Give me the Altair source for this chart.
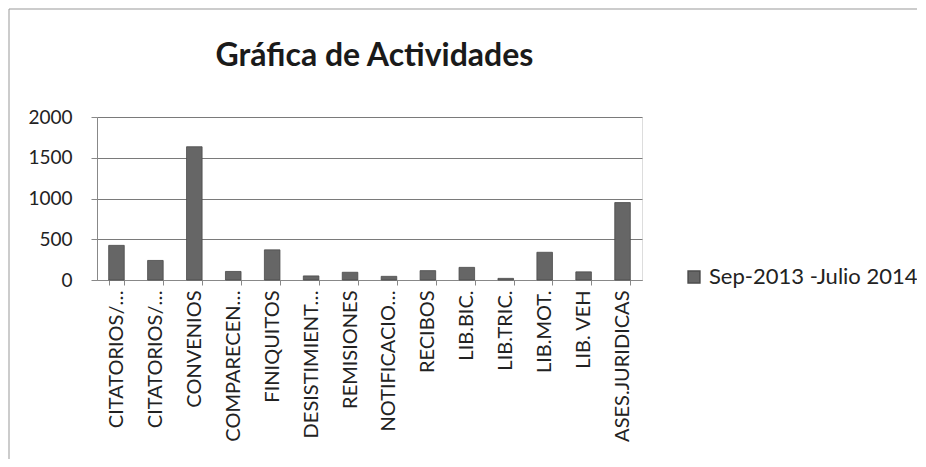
import altair as alt
import pandas as pd
import json

labels = ["CITATORIOS/…", "CITATORIOS/…", "CONVENIOS", "COMPARECEN…", "FINIQUITOS",
          "DESISTIMIENT…", "REMISIONES", "NOTIFICACIO…", "RECIBOS", "LIB.BIC.",
          "LIB.TRIC.", "LIB.MOT.", "LIB. VEH", "ASES.JURIDICAS"]
values = [425, 240, 1635, 105, 370, 50, 95, 45, 115, 155, 20, 340, 100, 950]
series = "Sep-2013 -Julio 2014"
y_ticks = [0, 500, 1000, 1500, 2000]

keys = [f"k{i:02d}" for i in range(len(labels))]
df = pd.DataFrame({"key": keys, "label": labels, "value": values, "series": series})
label_map = json.dumps(dict(zip(keys, labels)), ensure_ascii=False)

FONT = "Lato"

bars = alt.Chart(df).mark_bar(stroke="#4a4a4a", strokeWidth=0.8).encode(
    x=alt.X("key:N", sort=keys, title=None,
            scale=alt.Scale(paddingInner=0.6, paddingOuter=0.3),
            axis=alt.Axis(labelExpr=f"{label_map}[datum.value]", labelAngle=-90,
                          labelFontSize=20, labelColor="#222", labelPadding=5,
                          tickBand="extent", tickSize=5, tickColor="#888",
                          domainColor="#888", labelFont=FONT, grid=False,
                          labelLimit=200)),
    y=alt.Y("value:Q", title=None,
            scale=alt.Scale(domain=[0, 2000], nice=False),
            axis=alt.Axis(values=y_ticks, format="d", labelFontSize=19,
                          labelColor="#222", labelFont=FONT, tickSize=6,
                          tickColor="#888", domainColor="#888",
                          gridColor="#7a7a7a", gridWidth=1, labelPadding=19)),
    color=alt.Color("series:N", title=None,
                    scale=alt.Scale(range=["#666666"]),
                    legend=alt.Legend(orient="none", legendX=586, legendY=149,
                                      symbolType="square", symbolSize=140,
                                      symbolStrokeColor="#4a4a4a",
                                      labelFontSize=22, labelColor="#222",
                                      labelFont=FONT, labelLimit=400)),
)

border = alt.Chart(pd.DataFrame({"a": [0]})).mark_rect(
    fill=None, stroke="#999", strokeWidth=1
).encode(x=alt.value(-88), x2=alt.value(823), y=alt.value(-108), y2=alt.value(345))

chart = alt.layer(border, bars).properties(
    width=545, height=163,
    autosize=alt.AutoSizeParams(type="none"),
    padding={"left": 89, "top": 109, "right": 275, "bottom": 179},
    title=alt.Title("Gráfica de Actividades", fontSize=32, font=FONT,
                    fontWeight="bold", color="#1a1a1a", offset=-64, anchor="middle",
                    dx=5),
).configure_view(stroke=None).configure(background="white")

chart.save("out.html", embed_options={"renderer": "svg", "actions": False})
